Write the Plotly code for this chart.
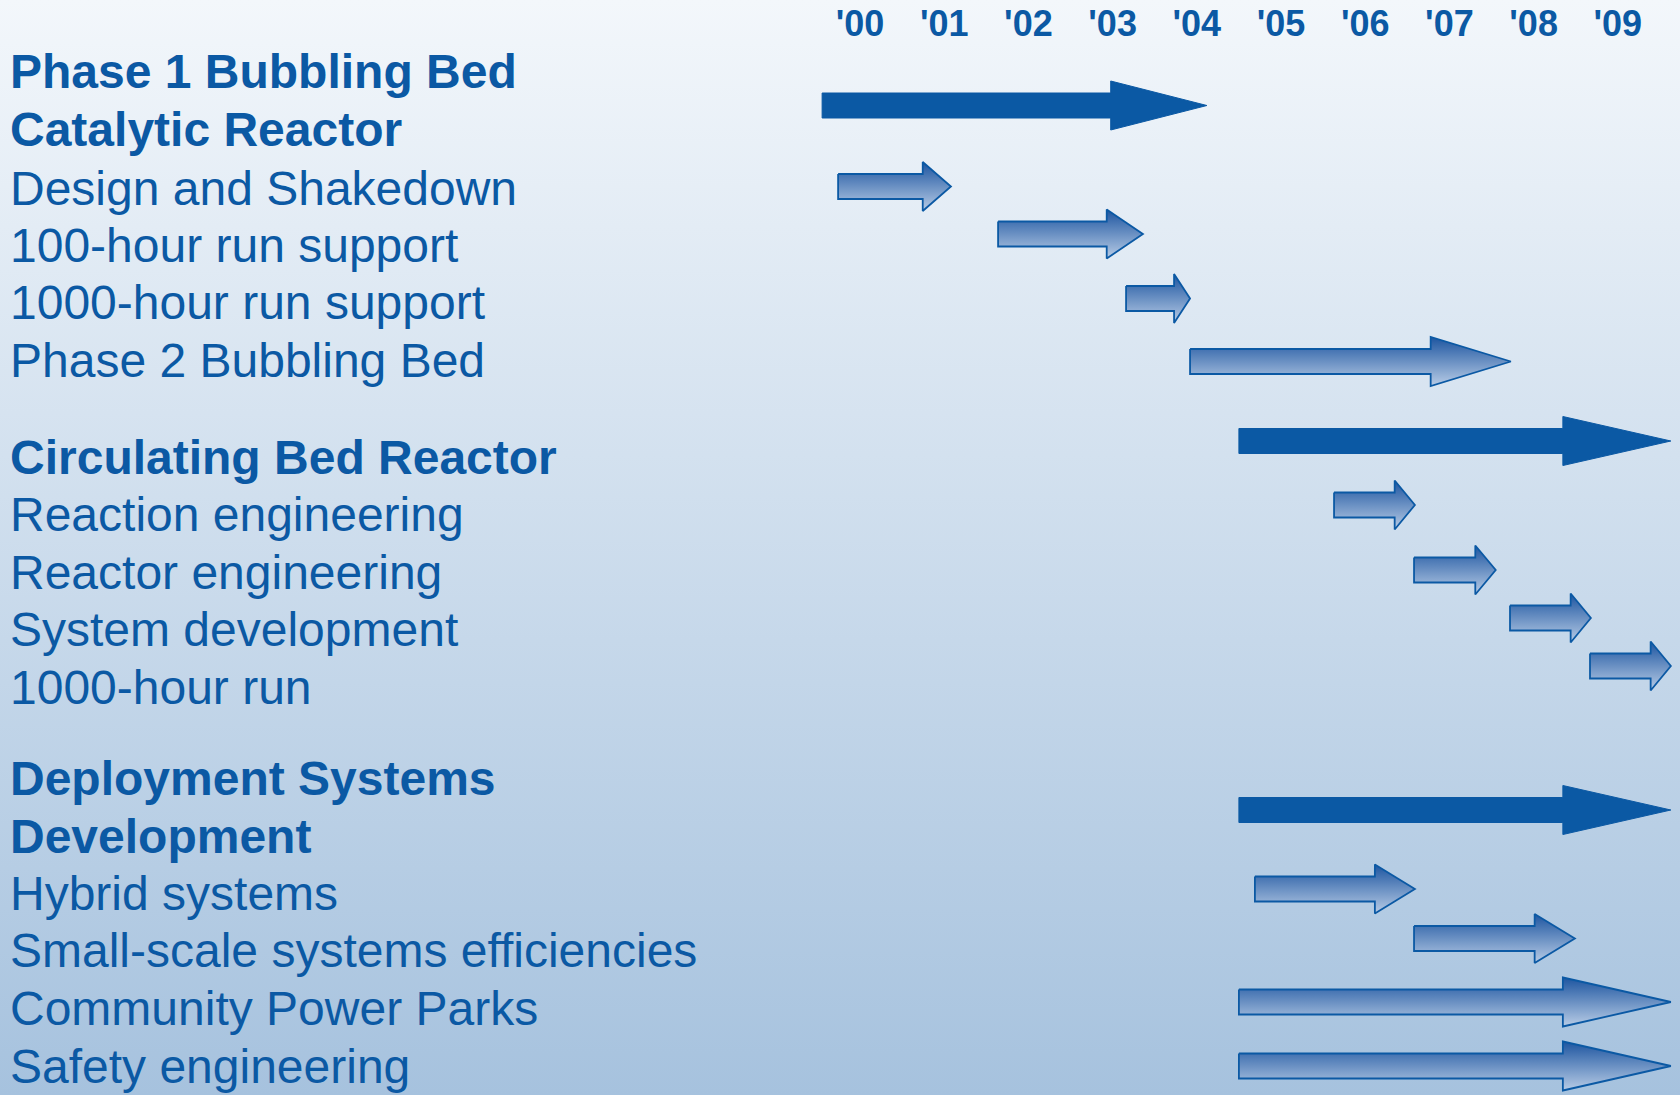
import plotly.graph_objects as go

# ---------------- data ----------------
year_labels = ["'00", "'01", "'02", "'03", "'04", "'05", "'06", "'07", "'08", "'09"]
year_values = [2000.5, 2001.5, 2002.5, 2003.5, 2004.5, 2005.5, 2006.5, 2007.5, 2008.5, 2009.5]

text_lines = [
    "Phase 1 Bubbling Bed", "Catalytic Reactor", "Design and Shakedown",
    "100-hour run support", "1000-hour run support", "Phase 2 Bubbling Bed",
    "Circulating Bed Reactor", "Reaction engineering", "Reactor engineering",
    "System development", "1000-hour run",
    "Deployment Systems", "Development", "Hybrid systems",
    "Small-scale systems efficiencies", "Community Power Parks", "Safety engineering",
]
text_bold = [True, True, False, False, False, False,
             True, False, False, False, False,
             True, True, False, False, False, False]

task_names = [
    "Phase 1 Bubbling Bed Catalytic Reactor", "Design and Shakedown",
    "100-hour run support", "1000-hour run support", "Phase 2 Bubbling Bed",
    "Circulating Bed Reactor", "Reaction engineering", "Reactor engineering",
    "System development", "1000-hour run",
    "Deployment Systems Development", "Hybrid systems",
    "Small-scale systems efficiencies", "Community Power Parks", "Safety engineering",
]
task_start = [2000.05, 2000.24, 2002.14, 2003.66, 2004.42,
              2005.0, 2006.13, 2007.08, 2008.22, 2009.17,
              2005.0, 2005.19, 2007.08, 2005.0, 2005.0]
task_end = [2004.62, 2001.58, 2003.86, 2004.42, 2008.23,
            2010.13, 2007.09, 2008.05, 2009.18, 2010.13,
            2010.13, 2007.09, 2008.99, 2010.13, 2010.13]
task_summary = [True, False, False, False, False,
                True, False, False, False, False,
                True, False, False, False, False]

# ---------------- layout (positions / styles) ----------------
W, H = 1680, 1095
X0 = 2000.5 - 860 / 84.2
X1 = 2000.5 + (W - 860) / 84.2
ARROW_ROW_PX = [105.5, 186.5, 234, 298.5, 361.5, 441, 505, 570, 618, 666,
                810, 889, 938.5, 1002, 1066]
TEXT_ROW_PX = [71.5, 129.5, 188.5, 245, 302.5, 360.5, 457, 514.5, 572.5, 629.5, 687.5,
               778, 836, 893.5, 950, 1008, 1066]
SHAFT_HALF = 12.5
HEAD_HALF = 24.5
HEAD_FRAC = 0.25
BLUE = "#0b59a4"
FONT = "Liberation Sans, Arial, sans-serif"

fig = go.Figure()

# background gradient
fig.add_trace(go.Scatter(
    x=[X0, X1, X1, X0, X0], y=[0, 0, H, H, 0], mode="lines",
    line=dict(width=0), fill="toself",
    fillgradient=dict(type="vertical", colorscale=[[0, "#a6c2de"], [1, "#f3f7fb"]]),
    hoverinfo="skip", showlegend=False))

for name, s, e, summ, rpx in zip(task_names, task_start, task_end, task_summary, ARROW_ROW_PX):
    yc = H - rpx
    hb = e - HEAD_FRAC * (e - s)
    xs = [s, hb, hb, e, hb, hb, s, s]
    ys = [yc + SHAFT_HALF, yc + SHAFT_HALF, yc + HEAD_HALF, yc,
          yc - HEAD_HALF, yc - SHAFT_HALF, yc - SHAFT_HALF, yc + SHAFT_HALF]
    kw = dict(x=xs, y=ys, mode="lines", fill="toself", name=name,
              line=dict(color=BLUE, width=1.8 if not summ else 1),
              hoverinfo="name", showlegend=False)
    if summ:
        kw["fillcolor"] = BLUE
    else:
        kw["fillgradient"] = dict(type="vertical",
                                  colorscale=[[0, "#b8cce6"], [1, "#1d55a0"]])
    fig.add_trace(go.Scatter(**kw))

for txt, bold, rpx in zip(text_lines, text_bold, TEXT_ROW_PX):
    fig.add_annotation(
        x=8 / W, xref="paper", y=H - rpx, yref="y", xanchor="left", yanchor="middle",
        text=f"<b>{txt}</b>" if bold else txt, showarrow=False,
        font=dict(family=FONT, size=48, color=BLUE))

fig.update_xaxes(range=[X0, X1], side="top", tickvals=year_values, ticktext=year_labels,
                 ticklabelposition="inside", ticks="", ticklabelstandoff=8,
                 showgrid=False, zeroline=False, showline=False,
                 tickfont=dict(family=FONT, size=36, color=BLUE, weight="bold"))
fig.update_yaxes(range=[0, H], showgrid=False, zeroline=False, showline=False,
                 showticklabels=False, ticks="")
fig.update_layout(width=W, height=H, margin=dict(l=0, r=0, t=0, b=0),
                  paper_bgcolor="#f3f7fb", plot_bgcolor="#f3f7fb")

fig.write_html("out.html", config={"displayModeBar": False},
               post_script="document.body.style.margin='0';document.body.style.overflow='hidden';")
